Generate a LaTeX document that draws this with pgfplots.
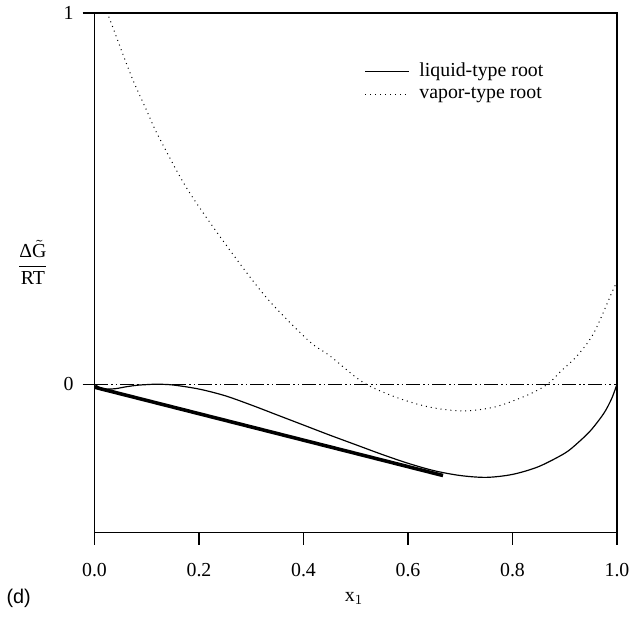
\documentclass[border=0pt]{standalone}
\usepackage{fontspec}
\setmainfont{Liberation Serif}
\newfontfamily\sansfont{Liberation Sans}
\usepackage{amsmath}
\usepackage{pgfplots}
\pgfplotsset{compat=1.18}

\begin{document}
\fontsize{10}{12}\selectfont
\begin{tikzpicture}
\begin{axis}[
    scale only axis,
    width=263.5pt,
    height=262pt,
    xmin=0, xmax=1,
    ymin=-0.4, ymax=1,
    axis line style={line width=0.7pt},
    tick style={line width=0.7pt, black},
    tick align=outside,
    major tick length=6pt,
    tick pos=left,
    xtick={0,0.2,0.4,0.6,0.8,1.0},
    xticklabels={0.0,0.2,0.4,0.6,0.8,1.0},
    ytick={0,1},
    yticklabels={0,1},
    x tick label style={yshift=-6pt},
    y tick label style={xshift=-1pt},
    clip mode=individual,
    legend style={at={(rel axis cs:0.505,0.92)}, anchor=north west,
        draw=none, fill=none, font=\fontsize{10}{11}\selectfont,
        row sep=0pt, cells={anchor=west}},
    legend image code/.code={\draw[#1] (0pt,0pt) -- (22pt,0pt); \path (25pt,0pt);},
]

% liquid-type root
\addplot[black, line width=0.6pt, smooth] coordinates {
(0.000,0.000) (0.010,-0.009) (0.020,-0.013) (0.040,-0.012) (0.060,-0.007)
(0.080,-0.003) (0.100,-0.001) (0.120,0.000) (0.150,-0.002) (0.200,-0.013)
(0.250,-0.031) (0.300,-0.056) (0.350,-0.083) (0.400,-0.110) (0.450,-0.137)
(0.500,-0.163) (0.550,-0.189) (0.600,-0.213) (0.650,-0.233) (0.700,-0.246)
(0.750,-0.251) (0.800,-0.243) (0.850,-0.222) (0.900,-0.186) (0.925,-0.158)
(0.950,-0.124) (0.975,-0.078) (0.990,-0.038) (1.000,0.000)
};
\addlegendentry{liquid-type root}

% vapor-type root
\addplot[black, line width=0.5pt, dotted, smooth] coordinates {
(0.000,1.090) (0.032,0.973) (0.070,0.832) (0.102,0.731) (0.121,0.672)
(0.178,0.525) (0.254,0.371) (0.330,0.232) (0.410,0.117) (0.450,0.077)
(0.514,0.005) (0.577,-0.035) (0.639,-0.061) (0.704,-0.072) (0.767,-0.061)
(0.829,-0.029) (0.867,0.000) (0.894,0.037) (0.924,0.077) (0.956,0.139)
(0.992,0.253) (1.000,0.275)
};
\addlegendentry{vapor-type root}

% common tangent
\addplot[black, line width=1.8pt, forget plot] coordinates {(0.000,-0.008) (0.667,-0.246)};

% zero line
\addplot[black, line width=0.6pt, forget plot,
    dash pattern=on 7pt off 1.5pt on 0.8pt off 1.5pt on 0.8pt off 1.5pt]
    coordinates {(0,0) (1,0)};

\node at (rel axis cs:-0.118,0.52) {$\dfrac{\text{Δ}\tilde{\text{G}}}{\text{RT}}$};
\node at (rel axis cs:0.497,-0.126) {x$_1$};
\node at (rel axis cs:-0.145,-0.126) {\sansfont (d)};
\path (rel axis cs:0,-0.165) -- (rel axis cs:0,-0.165);
\end{axis}
\end{tikzpicture}
\end{document}
